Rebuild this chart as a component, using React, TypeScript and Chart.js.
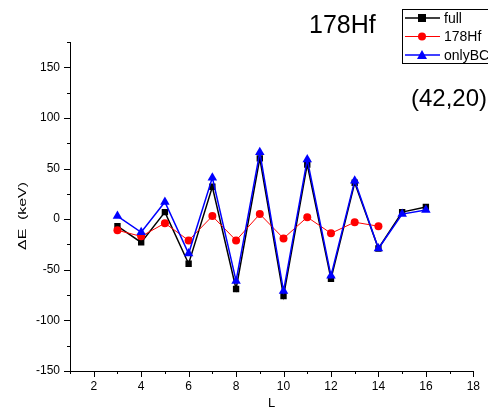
import React, { useEffect, useRef } from "react";
import { Chart, registerables } from "chart.js";

Chart.register(...registerables);

const L = [3, 4, 5, 6, 7, 8, 9, 10, 11, 12, 13, 14, 15, 16];
const fullValues = [-7, -23, 7, -44, 32, -69, 60, -76, 54, -59, 36, -29, 7, 12];
const hfLabels = [3, 4, 5, 6, 7, 8, 9, 10, 11, 12, 13, 14];
const hfValues = [-11, -17, -4, -21, 3, -21, 5, -19, 2, -14, -3, -7];
const onlyBCValues = [3, -13, 17, -34, 41, -61, 66, -71, 59, -56, 38, -29, 5, 9];

const titleText = "178Hf";
const noteText = "(42,20)";
const legendNames = ["full", "178Hf", "onlyBC"];
const xTitle = "L";
const yTitle = "\u0394E  (keV)";

const FAMILY = '"Liberation Sans", Arial, Helvetica, sans-serif';

const tickPlugin = {
  id: "originTicks",
  afterDraw(chart: any) {
    const { ctx, chartArea, scales } = chart;
    const xs = scales.x;
    const ys = scales.y;
    ctx.save();
    ctx.strokeStyle = "#000";
    ctx.lineWidth = 1;
    ctx.beginPath();
    for (let v = 1; v <= 18; v++) {
      const px = Math.round(xs.getPixelForValue(v)) + 0.5;
      const len = v % 2 === 0 ? 6 : 3;
      ctx.moveTo(px, chartArea.bottom);
      ctx.lineTo(px, chartArea.bottom + len);
    }
    for (let v = -150; v <= 175; v += 25) {
      const py = Math.round(ys.getPixelForValue(v)) + 0.5;
      const len = v % 50 === 0 ? 6 : 3;
      ctx.moveTo(chartArea.left, py);
      ctx.lineTo(chartArea.left - len, py);
    }
    ctx.stroke();

    // y axis title (slightly stretched along its length, like the original)
    ctx.save();
    ctx.translate(23, 216);
    ctx.rotate(-Math.PI / 2);
    ctx.scale(1.38, 1);
    ctx.fillStyle = "#000";
    ctx.font = `11.5px ${FAMILY}`;
    ctx.textAlign = "center";
    ctx.textBaseline = "middle";
    ctx.fillText(yTitle, 0, 0);
    ctx.restore();

    // title and annotation
    ctx.fillStyle = "#000";
    ctx.textBaseline = "alphabetic";
    ctx.textAlign = "left";
    ctx.font = `25px ${FAMILY}`;
    ctx.fillText(titleText, 309, 33);
    ctx.font = `24px ${FAMILY}`;
    ctx.fillText(noteText, 411, 106);

    // legend
    const bx = 402.5, by = 9.5;
    ctx.strokeStyle = "#000";
    ctx.lineWidth = 1;
    ctx.strokeRect(bx, by, 100, 54);
    const rows = [
      { y: 18, color: "#000000", style: "rect" },
      { y: 36.5, color: "#ff0000", style: "circle" },
      { y: 55, color: "#0000ff", style: "triangle" },
    ];
    ctx.font = `14px ${FAMILY}`;
    ctx.textBaseline = "middle";
    rows.forEach((r, i) => {
      ctx.strokeStyle = r.color;
      ctx.fillStyle = r.color;
      ctx.lineWidth = i === 1 ? 1 : 1.5;
      ctx.beginPath();
      ctx.moveTo(405, r.y);
      ctx.lineTo(440, r.y);
      ctx.stroke();
      ctx.beginPath();
      if (r.style === "rect") {
        ctx.fillRect(418, r.y - 4, 8, 8);
      } else if (r.style === "circle") {
        ctx.arc(422, r.y, 4, 0, Math.PI * 2);
        ctx.fill();
      } else {
        ctx.moveTo(422, r.y - 5);
        ctx.lineTo(427, r.y + 4);
        ctx.lineTo(417, r.y + 4);
        ctx.closePath();
        ctx.fill();
      }
      ctx.fillStyle = "#000";
      ctx.fillText(legendNames[i], 444, r.y + 1);
    });
    ctx.restore();
  },
};

export default function App() {
  const ref = useRef<HTMLCanvasElement | null>(null);
  useEffect(() => {
    if (!ref.current) return;
    const chart = new Chart(ref.current, {
      type: "line",
      data: {
        datasets: [
          {
            label: legendNames[0],
            data: L.map((x, i) => ({ x, y: fullValues[i] })),
            borderColor: "#000000",
            backgroundColor: "#000000",
            borderWidth: 1.5,
            pointStyle: "rect",
            pointRadius: 4.5,
            pointBorderWidth: 0,
            order: 3,
          },
          {
            label: legendNames[1],
            data: hfLabels.map((x, i) => ({ x, y: hfValues[i] })),
            borderColor: "#ff0000",
            backgroundColor: "#ff0000",
            borderWidth: 1,
            pointStyle: "circle",
            pointRadius: 4,
            pointBorderWidth: 0,
            order: 2,
          },
          {
            label: legendNames[2],
            data: L.map((x, i) => ({ x, y: onlyBCValues[i] })),
            borderColor: "#0000ff",
            backgroundColor: "#0000ff",
            borderWidth: 1.5,
            pointStyle: "triangle",
            pointRadius: 5.5,
            pointBorderWidth: 0,
            order: 1,
          },
        ],
      },
      options: {
        responsive: false,
        animation: false,
        events: [],
        layout: { padding: { top: 42, right: 14, bottom: 0, left: 0 } },
        plugins: { legend: { display: false }, tooltip: { enabled: false }, title: { display: false } },
        scales: {
          x: {
            type: "linear",
            min: 1,
            max: 18,
            afterFit: (s: any) => { s.height = 47; },
            grid: { drawOnChartArea: false, drawTicks: false },
            border: { display: true, color: "#000", width: 1 },
            ticks: {
              stepSize: 1,
              autoSkip: false,
              maxRotation: 0,
              padding: 8,
              color: "#000",
              font: { size: 12, family: FAMILY },
              callback: (v: any) => (Number(v) % 2 === 0 ? String(v) : ""),
            },
            title: {
              display: true,
              text: xTitle,
              color: "#000",
              font: { size: 13, family: FAMILY },
              padding: { top: 0, bottom: 7 },
            },
          },
          y: {
            type: "linear",
            min: -150,
            max: 175,
            afterFit: (s: any) => { s.width = 70; },
            grid: { drawOnChartArea: false, drawTicks: false },
            border: { display: true, color: "#000", width: 1 },
            ticks: {
              stepSize: 25,
              autoSkip: false,
              padding: 10,
              color: "#000",
              font: { size: 12, family: FAMILY },
              callback: (v: any) => (Number(v) % 50 === 0 ? String(v) : ""),
            },
            title: { display: false },
          },
        },
      },
      plugins: [tickPlugin],
    });
    return () => chart.destroy();
  }, []);
  return (
    <div style={{ position: "fixed", left: 0, top: 0, width: 488, height: 418, background: "#fff" }}>
      <canvas ref={ref} width={488} height={418} style={{ width: 488, height: 418, display: "block" }} />
    </div>
  );
}
